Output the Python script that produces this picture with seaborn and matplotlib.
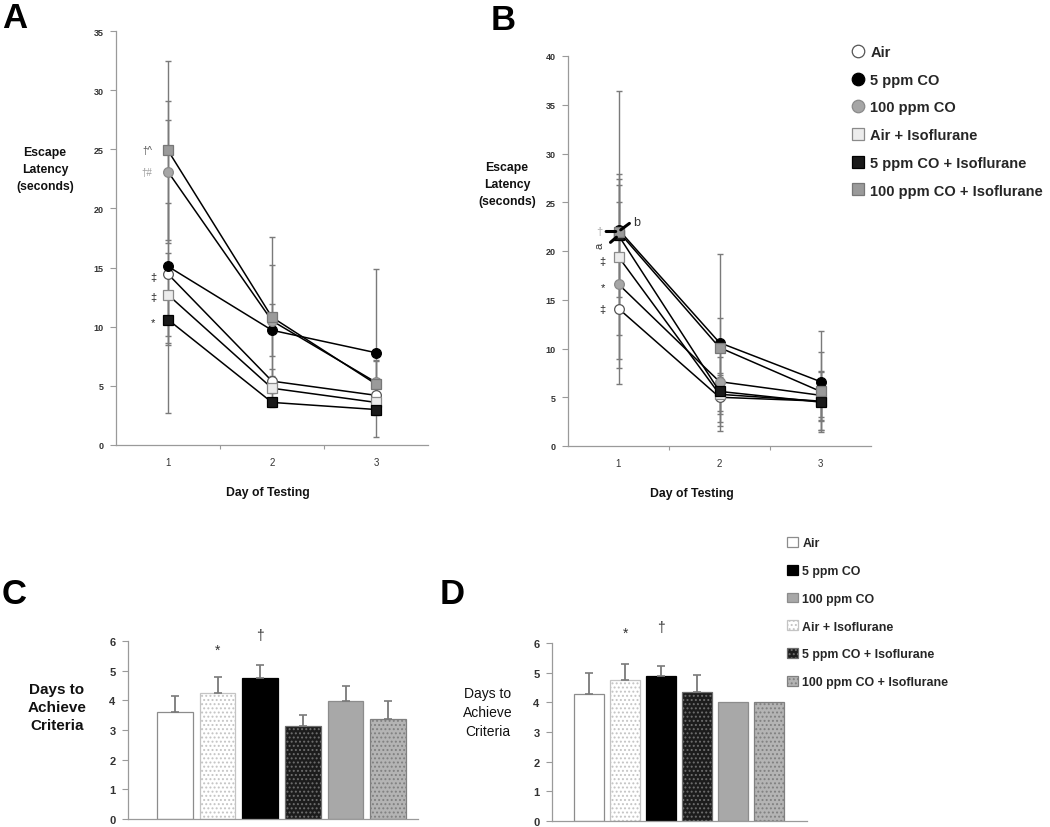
import matplotlib
matplotlib.use("Agg")
import matplotlib.pyplot as plt
from matplotlib.lines import Line2D
from matplotlib.patches import Patch
import pandas as pd
import seaborn as sns

sns.set_theme(style="white")
plt.rcParams["font.family"] = ["Liberation Sans", "DejaVu Sans"]
plt.rcParams["hatch.linewidth"] = 0.9

W, H = 1050, 828

groups = ["Air", "5 ppm CO", "100 ppm CO", "Air + Isoflurane",
          "5 ppm CO + Isoflurane", "100 ppm CO + Isoflurane"]
days = [1, 2, 3]

# panel A: escape latency (s), rows follow `groups`
a_mean = [[14.45, 5.4, 4.2],
          [15.1, 9.7, 7.8],
          [23.1, 10.5, 5.3],
          [12.7, 4.8, 3.6],
          [10.6, 3.6, 3.0],
          [24.9, 10.8, 5.15]]
a_sd = [[6.0, 1.0, 1.0],
        [12.4, 2.2, 7.1],
        [6.0, 4.7, 1.8],
        [3.5, 0.8, 0.8],
        [2.0, 0.4, 0.5],
        [7.6, 6.8, 2.0]]

# panel B
b_mean = [[14.1, 5.0, 4.6],
          [22.2, 10.6, 6.6],
          [16.6, 6.6, 5.2],
          [19.4, 5.3, 4.6],
          [21.6, 5.6, 4.5],
          [22.0, 10.1, 5.6]]
b_sd = [[5.2, 2.5, 2.0],
        [14.2, 9.1, 5.2],
        [10.2, 3.0, 2.5],
        [8.0, 2.0, 3.0],
        [6.3, 3.5, 1.5],
        [3.0, 3.0, 4.0]]

# panels C and D: days to achieve criteria
bar_order = ["Air", "Air + Isoflurane", "5 ppm CO", "5 ppm CO + Isoflurane",
             "100 ppm CO", "100 ppm CO + Isoflurane"]
c_days = [3.62, 4.25, 4.74, 3.15, 3.97, 3.37]
c_err = [0.52, 0.55, 0.46, 0.35, 0.53, 0.60]
d_days = [4.27, 4.75, 4.88, 4.34, 4.0, 4.0]
d_err = [0.71, 0.53, 0.34, 0.59, 0.0, 0.0]

marker_shape = ["o", "o", "o", "s", "s", "s"]
marker_face = ["white", "black", "#a6a6a6", "#ececec", "#1a1a1a", "#9a9a9a"]
marker_edge = ["#555555", "black", "#8a8a8a", "#8a8a8a", "black", "#777777"]

bar_face = {"Air": "white", "Air + Isoflurane": "white", "5 ppm CO": "black",
            "5 ppm CO + Isoflurane": "#1c1c1c", "100 ppm CO": "#a8a8a8",
            "100 ppm CO + Isoflurane": "#b4b4b4"}
bar_edge = {"Air": "#8c8c8c", "Air + Isoflurane": "#c4c4c4", "5 ppm CO": "black",
            "5 ppm CO + Isoflurane": "#6e6e6e", "100 ppm CO": "#8c8c8c",
            "100 ppm CO + Isoflurane": "#808080"}
bar_hatch = {"Air + Isoflurane": "....", "5 ppm CO + Isoflurane": "....",
             "100 ppm CO + Isoflurane": "...."}

AXIS_GREY = "#9a9a9a"

fig = plt.figure(figsize=(W / 100, H / 100), dpi=100)


def px_axes(left, top, right, bottom):
    return fig.add_axes([left / W, 1 - bottom / H, (right - left) / W, (bottom - top) / H])


def ftext(x, y, s, **kw):
    fig.text(x / W, 1 - y / H, s, ha="center", va="center", **kw)


def style_axis(ax, labelsize, weight="normal"):
    sns.despine(ax=ax)
    for side in ["left", "bottom"]:
        ax.spines[side].set_color(AXIS_GREY)
        ax.spines[side].set_linewidth(0.9)
    ax.tick_params(axis="y", left=True, length=4, width=0.8, color=AXIS_GREY,
                   labelsize=labelsize, pad=5, labelcolor="#333333")
    for lab in ax.get_yticklabels():
        lab.set_fontweight(weight)
    ax.set_xlabel("")
    ax.set_ylabel("")


def line_panel(ax, means, sds, ymax, labelsize):
    for i in range(len(groups)):
        ax.errorbar(days, means[i], yerr=sds[i], fmt="none", ecolor="#7a7a7a",
                    elinewidth=1.0, capsize=2, capthick=1.0, zorder=1)
    for i in range(len(groups)):
        sns.lineplot(x=days, y=means[i], ax=ax, color="black", lw=1.1,
                     marker=marker_shape[i], markersize=7,
                     markerfacecolor=marker_face[i], markeredgecolor=marker_edge[i],
                     markeredgewidth=0.9, zorder=3 + i)
    ax.set_xlim(0.5, 3.5)
    ax.set_ylim(0, ymax)
    ax.set_yticks(range(0, ymax + 1, 5))
    ax.set_xticks(days)
    ax.set_xticks([1.5, 2.5], minor=True)
    style_axis(ax, labelsize, "bold")
    ax.tick_params(axis="x", which="major", bottom=False, labelsize=7, pad=3,
                   labelcolor="#333333")
    ax.tick_params(axis="x", which="minor", bottom=True, length=3, width=0.8,
                   color=AXIS_GREY)


def bar_panel(ax, vals, errs, xlim):
    df = pd.DataFrame({"group": bar_order, "days": vals})
    sns.barplot(data=df, x="group", y="days", order=bar_order, ax=ax,
                width=0.84, errorbar=None, color="white", saturation=1)
    for patch, g in zip(ax.patches, bar_order):
        patch.set_facecolor(bar_face[g])
        patch.set_edgecolor(bar_edge[g])
        patch.set_hatch(bar_hatch.get(g, ""))
        patch.set_linewidth(0.9)
    idx = [i for i, e in enumerate(errs) if e > 0]
    ax.errorbar(idx, [vals[i] for i in idx], yerr=[[0] * len(idx), [errs[i] for i in idx]],
                fmt="none", ecolor="#7a7a7a", elinewidth=1.3, capsize=3, capthick=1.2,
                zorder=4)
    ax.set_ylim(0, 6)
    ax.set_xlim(*xlim)
    ax.set_xticks([])
    style_axis(ax, 8, "bold")


# --- A ---
ax_a = px_axes(116, 32, 428, 446)
line_panel(ax_a, a_mean, a_sd, 35, 6.5)
ax_a.text(0.80, 24.9, "\u2020^", fontsize=7, color="#555555", ha="center", va="center")
ax_a.text(0.80, 23.1, "\u2020#", fontsize=7, color="#9a9a9a", ha="center", va="center")
ax_a.text(0.855, 14.2, "\u2021", fontsize=8, ha="center", va="center", color="#222222")
ax_a.text(0.855, 12.5, "\u2021", fontsize=8, ha="center", va="center", color="#222222")
ax_a.text(0.855, 10.4, "*", fontsize=8, ha="center", va="center", color="#222222")

# --- B ---
ax_b = px_axes(568, 57, 871, 447)
line_panel(ax_b, b_mean, b_sd, 40, 6.5)
ax_b.text(0.815, 22.1, "\u2020", fontsize=8, color="#aaaaaa", ha="center", va="center")
ax_b.annotate("", xy=(1.0, 22.0), xytext=(0.85, 22.0),
              arrowprops=dict(arrowstyle="-", lw=2.2, color="black"), zorder=10)
ax_b.text(0.815, 20.6, "a", fontsize=8, color="#333333", ha="center", va="center", rotation=90)
ax_b.annotate("", xy=(1.0, 21.6), xytext=(0.9, 20.7),
              arrowprops=dict(arrowstyle="-", lw=2.2, color="black"), zorder=10)
ax_b.text(1.18, 23.0, "b", fontsize=9, color="#333333", ha="center", va="center")
ax_b.annotate("", xy=(1.0, 22.0), xytext=(1.13, 23.0),
              arrowprops=dict(arrowstyle="-", lw=2.2, color="black"), zorder=10)
ax_b.text(0.845, 19.0, "\u2021", fontsize=8, ha="center", va="center", color="#222222")
ax_b.text(0.845, 16.3, "*", fontsize=8, ha="center", va="center", color="#222222")
ax_b.text(0.845, 14.1, "\u2021", fontsize=8, ha="center", va="center", color="#222222")

# --- C ---
ax_c = px_axes(128, 642, 418, 820)
bar_panel(ax_c, c_days, c_err, (-1.1, 5.7))
ax_c.text(1, 5.72, "*", fontsize=10, ha="center", va="center", color="#333333")
ax_c.text(2, 6.2, "\u2020", fontsize=10, ha="center", va="center", color="#333333")

# --- D ---
ax_d = px_axes(552, 644, 807, 822)
bar_panel(ax_d, d_days, d_err, (-1.04, 6.07))
ax_d.text(1, 6.35, "*", fontsize=10, ha="center", va="center", color="#333333")
ax_d.text(2, 6.55, "\u2020", fontsize=10, ha="center", va="center", color="#333333")

# axis titles and panel letters
lab_kw = dict(fontsize=8.8, fontweight="bold", linespacing=1.55, color="#111111")
ftext(45, 170, "Escape\nLatency\n(seconds)", **lab_kw)
ftext(507, 185, "Escape\nLatency\n(seconds)", **lab_kw)
ftext(268, 493, "Day of Testing", fontsize=8.8, fontweight="bold", color="#111111")
ftext(692, 494, "Day of Testing", fontsize=8.8, fontweight="bold", color="#111111")
ftext(57, 708, "Days to\nAchieve\nCriteria", fontsize=11, fontweight="bold",
      linespacing=1.35, color="#111111")
ftext(488, 713, "Days to\nAchieve\nCriteria", fontsize=10, linespacing=1.45,
      color="#111111")
for letter, (x, y) in {"A": (15, 18), "B": (503, 20), "C": (14, 595), "D": (452, 595)}.items():
    ftext(x, y, letter, fontsize=25, fontweight="bold", color="black")

# legends
line_handles = [Line2D([], [], ls="none", marker=marker_shape[i], markersize=9,
                       markerfacecolor=marker_face[i], markeredgecolor=marker_edge[i],
                       markeredgewidth=0.9) for i in range(len(groups))]
fig.legend(line_handles, groups, loc="upper left", bbox_to_anchor=(850 / W, 1 - 46 / H),
           frameon=False, prop={"weight": "bold", "size": 10.5}, handletextpad=0.3,
           labelspacing=0.94, borderpad=0, borderaxespad=0, handlelength=1.1)

bar_handles = [Patch(facecolor=bar_face[g], edgecolor=bar_edge[g], hatch=bar_hatch.get(g, ""),
                     linewidth=0.9) for g in groups]
fig.legend(bar_handles, groups, loc="upper left", bbox_to_anchor=(787 / W, 1 - 538 / H),
           frameon=False, prop={"weight": "bold", "size": 8.9}, handletextpad=0.4,
           labelspacing=1.26, borderpad=0, borderaxespad=0, handlelength=0.85,
           handleheight=0.85)

fig.savefig("out.png", dpi=100)
